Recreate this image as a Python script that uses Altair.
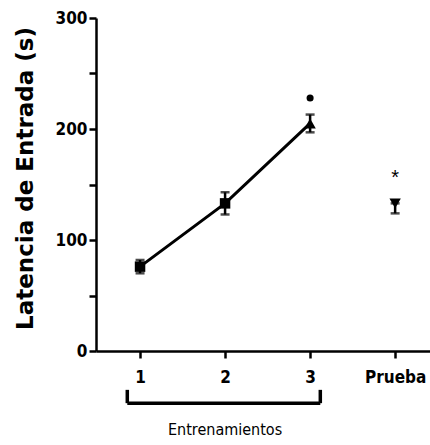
import altair as alt
import pandas as pd

# ---- data ----
sessions = [1, 2, 3, 4]
means = [76, 133, 205, 133]
sem_up = [6, 10, 8, 0]
sem_down = [6, 10, 8, 9]
shapes = ["square", "square", "triangle-up", "triangle-down"]
marker_sizes = [110, 110, 130, 130]
train_sessions = [1, 2, 3]
train_means = [76, 133, 205]
dot_x = [3]
dot_y = [228]
star_x = [4]
star_y = [156]
star_text = ["*"]
bracket_x = [0.85, 3.12]
bracket_y = [-35, -47]
group_label = ["Entrenamientos"]
group_label_x = [2]
group_label_y = [-71]

NARROW = "DejaVu Sans Condensed, Liberation Sans"

df = pd.DataFrame({"x": sessions, "m": means, "up": sem_up, "dn": sem_down,
                   "shape": shapes, "sz": marker_sizes})
df["lo"] = df["m"] - df["dn"]
df["hi"] = df["m"] + df["up"]
line_df = pd.DataFrame({"x": train_sessions, "m": train_means})

xs = alt.Scale(domain=[0.482, 4.41], nice=False, zero=False)
ys = alt.Scale(domain=[0, 300], nice=False)

x_axis = alt.Axis(values=[1, 2, 3, 4], format="d",
                  labelExpr="datum.value == 4 ? 'Prueba' : datum.label",
                  title=None, labelFont=NARROW, labelFontWeight="bold",
                  labelFontSize=17, labelColor="black", labelPadding=11,
                  tickSize=7, grid=False)
y_axis = alt.Axis(values=list(range(0, 301, 25)),
                  labelExpr="datum.value % 100 == 0 ? datum.label : ''",
                  title="Latencia de Entrada (s)", titleFont="DejaVu Sans",
                  titleFontWeight="bold", titleFontSize=23, titleColor="black",
                  titleX=-64, titleY=160, titleBaseline="alphabetic", titleAngle=270,
                  labelFont=NARROW, labelFontWeight="bold", labelFontSize=17,
                  labelColor="black", labelPadding=2, tickSize=7, grid=False)

base = alt.Chart(df)

line = alt.Chart(line_df).mark_line(color="black", strokeWidth=3).encode(
    x=alt.X("x:Q", scale=xs, axis=x_axis),
    y=alt.Y("m:Q", scale=ys, axis=y_axis),
)

err = base.mark_rule(color="black", strokeWidth=2.5).encode(
    x=alt.X("x:Q", scale=xs), y=alt.Y("lo:Q", scale=ys), y2="hi:Q")
cap_lo = base.mark_tick(color="black", orient="horizontal", size=9, thickness=2.5).encode(
    x=alt.X("x:Q", scale=xs), y=alt.Y("lo:Q", scale=ys))
cap_hi = base.mark_tick(color="black", orient="horizontal", size=9, thickness=2.5).encode(
    x=alt.X("x:Q", scale=xs), y=alt.Y("hi:Q", scale=ys))

pts = base.mark_point(filled=True, color="black", opacity=1).encode(
    x=alt.X("x:Q", scale=xs), y=alt.Y("m:Q", scale=ys),
    shape=alt.Shape("shape:N", scale=None, legend=None),
    size=alt.Size("sz:Q", scale=None, legend=None))

dot = alt.Chart(pd.DataFrame({"x": dot_x, "y": dot_y})).mark_point(
    filled=True, color="black", opacity=1, size=50, shape="circle").encode(
    x=alt.X("x:Q", scale=xs), y=alt.Y("y:Q", scale=ys))

star = alt.Chart(pd.DataFrame({"x": star_x, "y": star_y, "t": star_text})).mark_text(
    font="Liberation Sans", fontSize=20, color="black", baseline="middle", align="center").encode(
    x=alt.X("x:Q", scale=xs), y=alt.Y("y:Q", scale=ys), text="t:N")

br_df = pd.DataFrame({"x": [bracket_x[0]], "x2": [bracket_x[1]], "y": [bracket_y[1]]})
br_h = alt.Chart(br_df).mark_rule(color="black", strokeWidth=3.5).encode(
    x=alt.X("x:Q", scale=xs), x2="x2:Q", y=alt.Y("y:Q", scale=ys))
brv_df = pd.DataFrame({"x": bracket_x, "y": [bracket_y[0]] * 2, "y2": [bracket_y[1]] * 2})
br_v = alt.Chart(brv_df).mark_rule(color="black", strokeWidth=3.5).encode(
    x=alt.X("x:Q", scale=xs), y=alt.Y("y:Q", scale=ys), y2="y2:Q")

lab = alt.Chart(pd.DataFrame({"x": group_label_x, "y": group_label_y, "t": group_label})).mark_text(
    font=NARROW, fontSize=16, color="black", baseline="middle", align="center").encode(
    x=alt.X("x:Q", scale=xs), y=alt.Y("y:Q", scale=ys), text="t:N")

chart = alt.layer(line, err, cap_lo, cap_hi, pts, dot, star, br_h, br_v, lab).properties(
    width=334, height=333,
    autosize=alt.AutoSizeParams(type="none"),
    padding={"left": 96, "top": 18, "right": 0, "bottom": 94},
).configure_view(stroke=None).configure_axis(
    domainColor="black", domainWidth=2.5, tickColor="black", tickWidth=2.5,
)

chart.save("out.html", embed_options={"renderer": "svg", "actions": False})
